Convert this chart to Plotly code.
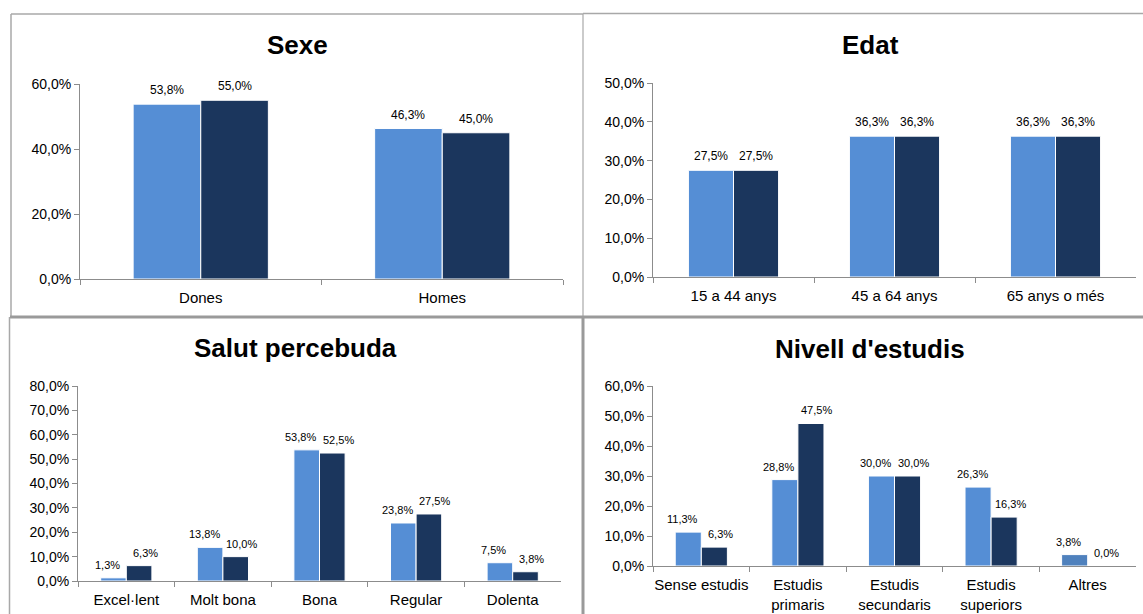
import plotly.graph_objects as go

# ---- data (percentages) ----
sexe_cats = ["Dones", "Homes"]
sexe_a = [53.8, 46.3]
sexe_b = [55.0, 45.0]

edat_cats = ["15 a 44 anys", "45 a 64 anys", "65 anys o més"]
edat_a = [27.5, 36.3, 36.3]
edat_b = [27.5, 36.3, 36.3]

salut_cats = ["Excel·lent", "Molt bona", "Bona", "Regular", "Dolenta"]
salut_a = [1.3, 13.8, 53.8, 23.8, 7.5]
salut_b = [6.3, 10.0, 52.5, 27.5, 3.8]

estudis_cats = ["Sense estudis", "Estudis<br>primaris", "Estudis<br>secundaris",
                "Estudis<br>superiors", "Altres"]
estudis_a = [11.3, 28.8, 30.0, 26.3, 3.8]
estudis_b = [6.3, 47.5, 30.0, 16.3, 0.0]

# ---- styling ----
W, H = 1143, 614
LIGHT = "#558ED5"
DARK = "#1B365D"
AXIS = "#8C8C8C"
BORDER = "#A8A8A8"
FONT = "Liberation Sans, Arial, sans-serif"


def px(x):
    return x / W


def py(y):
    return 1 - y / H


panels = [
    # title, cats, a, b, ymax, dtick, x0, x1, y0(px of 0), ytop(px of max), title_y, bar width, label spread
    ("Sexe", sexe_cats, sexe_a, sexe_b, 60, 20, 80, 563, 279, 84, 45, 0.28, 0),
    ("Edat", edat_cats, edat_a, edat_b, 50, 10, 653, 1136, 277, 83, 45, 0.28, 0),
    ("Salut percebuda", salut_cats, salut_a, salut_b, 80, 10, 78, 561, 581, 386, 348, 0.265, 6),
    ("Nivell d'estudis", estudis_cats, estudis_a, estudis_b, 60, 10, 653, 1136, 566, 386, 349, 0.27, 6),
]

fig = go.Figure()
annotations = []
layout_axes = {}

for k, (title, cats, a, b, ymax, dtick, x0, x1, yb, yt, ty, w, spread) in enumerate(panels):
    n = k + 1
    xa = "x" if n == 1 else f"x{n}"
    ya = "y" if n == 1 else f"y{n}"
    idx = list(range(len(cats)))
    light_colors = [LIGHT] * len(cats)
    if title == "Nivell d'estudis":
        light_colors[-1] = "#4F81BD"
    fig.add_trace(go.Bar(
        x=cats, y=a, xaxis=xa, yaxis=ya, width=w, offset=-w,
        marker=dict(color=light_colors, line=dict(color="white", width=1)),
        showlegend=False, hoverinfo="skip"))
    fig.add_trace(go.Bar(
        x=cats, y=b, xaxis=xa, yaxis=ya, width=w, offset=0,
        marker=dict(color=DARK, line=dict(color="white", width=1)),
        showlegend=False, hoverinfo="skip"))

    # value labels above each bar
    for i in idx:
        for val, dx, sx in ((a[i], -w / 2, -spread), (b[i], w / 2, spread)):
            annotations.append(dict(
                x=i + dx, y=val, xref=xa, yref=ya,
                text=f"{val:.1f}%".replace(".", ","),
                showarrow=False, yanchor="bottom", yshift=5, xshift=sx,
                font=dict(family=FONT, size=12 if spread == 0 else 11, color="#000000")))

    annotations.append(dict(
        x=(px(x0) + px(x1)) / 2 - px(24), y=py(ty),
        xref="paper", yref="paper", text=f"<b>{title}</b>", showarrow=False,
        xanchor="center", yanchor="middle",
        font=dict(family=FONT, size=26, color="#000000")))

    xkey = "xaxis" if n == 1 else f"xaxis{n}"
    ykey = "yaxis" if n == 1 else f"yaxis{n}"
    layout_axes[xkey] = dict(
        domain=[px(x0), px(x1)], anchor=ya, type="category",
        range=[-0.5, len(cats) - 0.5], automargin=False,
        showline=True, linecolor=AXIS, linewidth=1,
        ticks="outside", tickson="boundaries", ticklen=5, tickcolor=AXIS,
        tickangle=0, ticklabelstandoff=5,
        showgrid=False, zeroline=False, fixedrange=True,
        tickfont=dict(family=FONT, size=15, color="#000000"))
    layout_axes[ykey] = dict(
        domain=[py(yb), py(yt)], anchor=xa, range=[0, ymax], dtick=dtick,
        tick0=0, tickformat=".1f", ticksuffix="%", automargin=False,
        showline=True, linecolor=AXIS, linewidth=1,
        ticks="outside", ticklen=5, tickcolor=AXIS,
        showgrid=False, zeroline=False, fixedrange=True,
        tickfont=dict(family=FONT, size=14, color="#000000"))

# panel frames
shapes = [
    dict(type="line", xref="paper", yref="paper", x0=px(11), x1=px(583), y0=py(14), y1=py(14),
         line=dict(color=BORDER, width=1.5)),
    dict(type="line", xref="paper", yref="paper", x0=px(583), x1=1, y0=py(13.5), y1=py(13.5),
         line=dict(color=BORDER, width=1.5)),
    dict(type="line", xref="paper", yref="paper", x0=px(11), x1=px(11), y0=py(14), y1=py(317),
         line=dict(color=BORDER, width=1.5)),
    dict(type="line", xref="paper", yref="paper", x0=px(583), x1=px(583), y0=py(14), y1=py(317),
         line=dict(color=BORDER, width=1.2)),
    dict(type="line", xref="paper", yref="paper", x0=px(10), x1=1, y0=py(317), y1=py(317),
         line=dict(color="#9A9A9A", width=3)),
    dict(type="line", xref="paper", yref="paper", x0=px(9.5), x1=px(9.5), y0=py(317), y1=0,
         line=dict(color=BORDER, width=1.5)),
    dict(type="line", xref="paper", yref="paper", x0=px(583), x1=px(583), y0=py(317), y1=0,
         line=dict(color="#9A9A9A", width=3)),
]

fig.update_layout(
    width=W, height=H, margin=dict(l=0, r=0, t=0, b=0, autoexpand=False),
    paper_bgcolor="white", plot_bgcolor="white",
    barmode="group", separators=",.",
    font=dict(family=FONT, color="#000000"),
    annotations=annotations, shapes=shapes,
    **layout_axes,
)

fig.write_html("out.html")
